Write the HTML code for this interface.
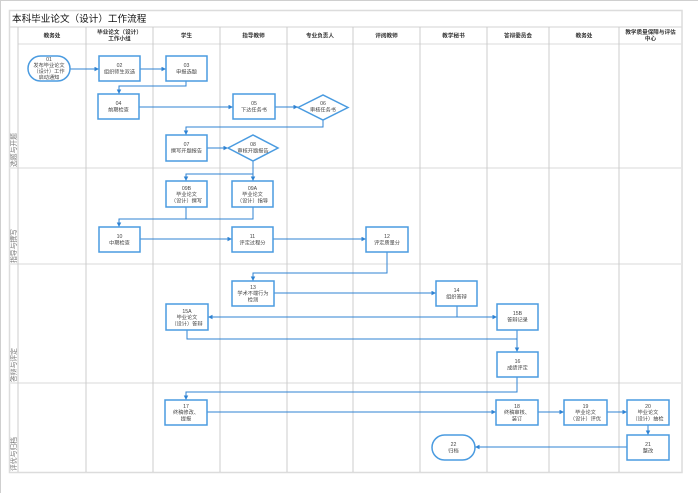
<!DOCTYPE html>
<html><head><meta charset="utf-8">
<style>
html,body{margin:0;padding:0;background:#fff;}
svg{display:block;}
text{font-family:"Liberation Sans","Noto Sans CJK SC",sans-serif;}
</style></head>
<body>
<svg width="698" height="493" viewBox="0 0 698 493" xmlns="http://www.w3.org/2000/svg">
<defs>
<marker id="a" markerUnits="userSpaceOnUse" markerWidth="5" markerHeight="5" refX="4.5" refY="2.25" orient="auto">
<path d="M0,0 L4.5,2.25 L0,4.5 z" fill="#2f83d3"/>
</marker>
</defs>
<!-- page edges -->
<line x1="0.5" y1="0" x2="0.5" y2="493" stroke="#cfcfcf" stroke-width="1"/>
<line x1="0" y1="0.5" x2="698" y2="0.5" stroke="#cfcfcf" stroke-width="1"/>
<!-- frame -->
<rect x="9.5" y="10.5" width="672.5" height="462" fill="#fff" stroke="#dcdcdc" stroke-width="1.5"/>
<line x1="9.5" y1="27" x2="682" y2="27" stroke="#dcdcdc" stroke-width="1.2"/>
<line x1="18" y1="44" x2="682" y2="44" stroke="#e2e2e2" stroke-width="1.2"/>
<!-- lane lines -->
<g stroke="#e6e6e6" stroke-width="1.6">
<line x1="9.5" y1="168" x2="682" y2="168"/>
<line x1="9.5" y1="264" x2="682" y2="264"/>
<line x1="9.5" y1="383" x2="682" y2="383"/>
</g>
<!-- column lines -->
<g stroke="#cccccc" stroke-width="1">
<line x1="18" y1="27" x2="18" y2="472"/>
<line x1="86" y1="27" x2="86" y2="472"/>
<line x1="153" y1="27" x2="153" y2="472"/>
<line x1="220" y1="27" x2="220" y2="472"/>
<line x1="287" y1="27" x2="287" y2="472"/>
<line x1="353" y1="27" x2="353" y2="472"/>
<line x1="420" y1="27" x2="420" y2="472"/>
<line x1="487" y1="27" x2="487" y2="472"/>
<line x1="549" y1="27" x2="549" y2="472"/>
<line x1="619" y1="27" x2="619" y2="472"/>
</g>
<!-- title -->
<text x="12" y="22" font-size="9.6" fill="#111">本科毕业论文（设计）工作流程</text>
<!-- headers -->
<g font-size="5.6" font-weight="bold" fill="#333" text-anchor="middle">
<text x="52" y="37.5">教务处</text>
<text x="119.5" y="34">毕业论文（设计）</text>
<text x="119.5" y="40.5">工作小组</text>
<text x="186.5" y="37.5">学生</text>
<text x="253.5" y="37.5">指导教师</text>
<text x="320" y="37.5">专业负责人</text>
<text x="386.5" y="37.5">评阅教师</text>
<text x="453.5" y="37.5">教学秘书</text>
<text x="518" y="37.5">答辩委员会</text>
<text x="584" y="37.5">教务处</text>
<text x="650.5" y="34">教学质量保障与评估</text>
<text x="650.5" y="40.5">中心</text>
</g>
<!-- lane labels -->
<g font-size="6.8" fill="#777">
<text transform="translate(16,167) rotate(-90)">选题与开题</text>
<text transform="translate(16,263) rotate(-90)">指导与撰写</text>
<text transform="translate(16,382) rotate(-90)">答辩与评定</text>
<text transform="translate(16,471) rotate(-90)">评优与归档</text>
</g>
<!-- connectors -->
<g fill="none" stroke="#2f83d3" stroke-width="1">
<path d="M70,69 H99" marker-end="url(#a)"/>
<path d="M140,69 H166" marker-end="url(#a)"/>
<path d="M186,81 V86 H119 V94" marker-end="url(#a)"/>
<path d="M139,107 H233" marker-end="url(#a)"/>
<path d="M275,107 H298" marker-end="url(#a)"/>
<path d="M323,120 V127 H186 V135" marker-end="url(#a)"/>
<path d="M207,148 H228" marker-end="url(#a)"/>
<path d="M253,161 V181" marker-end="url(#a)"/>
<path d="M253,174 H186 V181" marker-end="url(#a)"/>
<path d="M186,207 V219"/>
<path d="M253,207 V219 H119 V227" marker-end="url(#a)"/>
<path d="M140,239 H232" marker-end="url(#a)"/>
<path d="M273,239 H366" marker-end="url(#a)"/>
<path d="M387,252 V273 H253 V281" marker-end="url(#a)"/>
<path d="M274,293 H436" marker-end="url(#a)"/>
<path d="M457,306 V317"/>
<path d="M457,317 H208" marker-end="url(#a)"/>
<path d="M457,317 H497" marker-end="url(#a)"/>
<path d="M187,330 V339 H517 V352" marker-end="url(#a)"/>
<path d="M517,330 V339"/>
<path d="M517,377 V392 H186 V400" marker-end="url(#a)"/>
<path d="M207,412 H496" marker-end="url(#a)"/>
<path d="M538,412 H564" marker-end="url(#a)"/>
<path d="M607,412 H627" marker-end="url(#a)"/>
<path d="M648,425 V435" marker-end="url(#a)"/>
<path d="M627,447 H475" marker-end="url(#a)"/>
</g>
<!-- nodes -->
<g fill="#fff" stroke="#4a9be0" stroke-width="1.5">
<rect x="28" y="56" width="42" height="25" rx="12.5" ry="12.5"/>
<rect x="99" y="56" width="41" height="25"/>
<rect x="166" y="56" width="41" height="25"/>
<rect x="98" y="94" width="41" height="25"/>
<rect x="233" y="94" width="42" height="25"/>
<polygon points="298,107.5 323,95 348,107.5 323,120"/>
<rect x="166" y="135" width="41" height="26"/>
<polygon points="228,148 253,135 278,148 253,161"/>
<rect x="166" y="181" width="41" height="26"/>
<rect x="232" y="181" width="41" height="26"/>
<rect x="99" y="227" width="41" height="25"/>
<rect x="232" y="227" width="41" height="25"/>
<rect x="366" y="227" width="42" height="25"/>
<rect x="232" y="281" width="42" height="25"/>
<rect x="436" y="281" width="41" height="25"/>
<rect x="166" y="304" width="42" height="26"/>
<rect x="497" y="304" width="41" height="26"/>
<rect x="497" y="352" width="41" height="25"/>
<rect x="165" y="400" width="42" height="25"/>
<rect x="496" y="400" width="42" height="25"/>
<rect x="564" y="400" width="43" height="25"/>
<rect x="627" y="400" width="42" height="25"/>
<rect x="627" y="435" width="42" height="25"/>
<rect x="432" y="435" width="43" height="25" rx="12.5" ry="12.5"/>
</g>
<!-- node labels -->
<g font-size="5.2" fill="#444" text-anchor="middle">
<text x="49" y="61">01</text><text x="49" y="67">发布毕业论文</text><text x="49" y="73">（设计）工作</text><text x="49" y="79">启动通知</text>
<text x="119.5" y="67">02</text><text x="119.5" y="73.5">组织师生双选</text>
<text x="186.5" y="67">03</text><text x="186.5" y="73.5">申报选题</text>
<text x="118.5" y="105">04</text><text x="118.5" y="111.5">前期检查</text>
<text x="254" y="105">05</text><text x="254" y="111.5">下达任务书</text>
<text x="323" y="105">06</text><text x="323" y="111.5">审核任务书</text>
<text x="186.5" y="146">07</text><text x="186.5" y="152.5">撰写开题报告</text>
<text x="253" y="146">08</text><text x="253" y="152.5">审核开题报告</text>
<text x="186.5" y="190">09B</text><text x="186.5" y="196">毕业论文</text><text x="186.5" y="202.5">（设计）撰写</text>
<text x="252.5" y="190">09A</text><text x="252.5" y="196">毕业论文</text><text x="252.5" y="202.5">（设计）指导</text>
<text x="119.5" y="238">10</text><text x="119.5" y="244.5">中期检查</text>
<text x="252.5" y="238">11</text><text x="252.5" y="244.5">评定过程分</text>
<text x="387" y="238">12</text><text x="387" y="244.5">评定质量分</text>
<text x="253" y="289">13</text><text x="253" y="295">学术不端行为</text><text x="253" y="301.5">检测</text>
<text x="456.5" y="292">14</text><text x="456.5" y="298.5">组织答辩</text>
<text x="187" y="313">15A</text><text x="187" y="319">毕业论文</text><text x="187" y="325.5">（设计）答辩</text>
<text x="517.5" y="315">15B</text><text x="517.5" y="321.5">答辩记录</text>
<text x="517.5" y="363">16</text><text x="517.5" y="369.5">成绩评定</text>
<text x="186" y="408">17</text><text x="186" y="414">终稿修改、</text><text x="186" y="420.5">提报</text>
<text x="517" y="408">18</text><text x="517" y="414">终稿审核、</text><text x="517" y="420.5">装订</text>
<text x="585.5" y="408">19</text><text x="585.5" y="414">毕业论文</text><text x="585.5" y="420.5">（设计）评优</text>
<text x="648" y="408">20</text><text x="648" y="414">毕业论文</text><text x="648" y="420.5">（设计）抽检</text>
<text x="648" y="446">21</text><text x="648" y="452.5">整改</text>
<text x="453.5" y="446">22</text><text x="453.5" y="452.5">归档</text>
</g>
</svg>
</body></html>
